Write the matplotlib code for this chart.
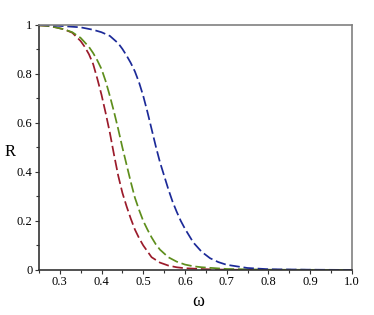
import matplotlib
matplotlib.use("Agg")
import matplotlib.pyplot as plt
from matplotlib.ticker import MultipleLocator

# Data
omega_red = [0.25, 0.27, 0.29, 0.31, 0.33, 0.35, 0.36, 0.37, 0.38, 0.39, 0.40, 0.41,
             0.42, 0.43, 0.44, 0.45, 0.46, 0.47, 0.48, 0.49, 0.50, 0.52, 0.54, 0.56,
             0.58, 0.60, 0.65, 0.70, 0.80, 1.00]
R_red = [0.998, 0.996, 0.99, 0.982, 0.968, 0.934, 0.91, 0.88, 0.84, 0.78, 0.715, 0.64,
         0.56, 0.47, 0.385, 0.315, 0.26, 0.21, 0.165, 0.13, 0.10, 0.052, 0.03, 0.018,
         0.011, 0.007, 0.003, 0.001, 0.0, 0.0]

omega_green = [0.25, 0.27, 0.29, 0.31, 0.33, 0.35, 0.37, 0.38, 0.39, 0.40, 0.41, 0.42,
               0.43, 0.44, 0.45, 0.46, 0.47, 0.48, 0.49, 0.50, 0.51, 0.52, 0.53, 0.54,
               0.56, 0.58, 0.60, 0.62, 0.64, 0.70, 0.80, 1.00]
R_green = [0.998, 0.996, 0.99, 0.982, 0.97, 0.947, 0.91, 0.885, 0.855, 0.82, 0.77, 0.71,
           0.645, 0.575, 0.50, 0.43, 0.36, 0.295, 0.245, 0.20, 0.165, 0.133, 0.105, 0.083,
           0.052, 0.034, 0.022, 0.015, 0.011, 0.004, 0.001, 0.0]

omega_blue = [0.25, 0.30, 0.35, 0.38, 0.40, 0.42, 0.44, 0.45, 0.46, 0.47, 0.48, 0.49,
              0.50, 0.51, 0.52, 0.53, 0.54, 0.55, 0.56, 0.57, 0.58, 0.59, 0.60, 0.62,
              0.64, 0.66, 0.68, 0.70, 0.75, 0.80, 0.90, 1.00]
R_blue = [1.0, 0.996, 0.99, 0.98, 0.97, 0.955, 0.925, 0.902, 0.875, 0.845, 0.81, 0.765,
          0.71, 0.645, 0.575, 0.505, 0.44, 0.385, 0.33, 0.28, 0.238, 0.20, 0.168, 0.112,
          0.074, 0.048, 0.032, 0.021, 0.008, 0.003, 0.001, 0.0]

x_ticks = [0.3, 0.4, 0.5, 0.6, 0.7, 0.8, 0.9, 1.0]
x_ticklabels = ["0.3", "0.4", "0.5", "0.6", "0.7", "0.8", "0.9", "1.0"]
y_ticks = [0, 0.2, 0.4, 0.6, 0.8, 1]
y_ticklabels = ["0", "0.2", "0.4", "0.6", "0.8", "1"]

plt.rcParams['font.family'] = ['Liberation Serif', 'DejaVu Serif']

fig = plt.figure(figsize=(3.74, 3.15), dpi=100)
ax = fig.add_axes([0.104, 0.143, 0.837, 0.778])

dash = (0, (6, 2.2))
ax.plot(omega_red, R_red, color="#9b1b2b", lw=1.25, linestyle=dash)
ax.plot(omega_green, R_green, color="#5e8e1c", lw=1.25, linestyle=dash)
ax.plot(omega_blue, R_blue, color="#1c2a98", lw=1.25, linestyle=dash)

ax.set_xlim(0.25, 1.0)
ax.set_ylim(0, 1.0)
ax.set_xticks(x_ticks)
ax.set_xticklabels(x_ticklabels)
ax.set_yticks(y_ticks)
ax.set_yticklabels(y_ticklabels)
ax.xaxis.set_minor_locator(MultipleLocator(0.05))
ax.yaxis.set_minor_locator(MultipleLocator(0.1))
ax.tick_params(which='both', direction='out', labelsize=9, colors='#333333',
               labelcolor='black', pad=1.5)
ax.tick_params(which='major', length=3, width=0.8)
ax.tick_params(which='minor', length=2, width=0.8)
ax.tick_params(axis='x', which='both', top=False)
ax.tick_params(axis='y', which='both', right=False)

for side in ['left', 'bottom']:
    ax.spines[side].set_color('#333333')
    ax.spines[side].set_linewidth(1.2)
for side in ['top', 'right']:
    ax.spines[side].set_color('#808080')
    ax.spines[side].set_linewidth(1.2)

fig.text(10 / 374, 1 - 152 / 315, "R", fontsize=12, ha='center', va='center')
fig.text(198 / 374, 1 - 301 / 315, "ω", fontsize=13, ha='center', va='center')

fig.savefig("out.png", dpi=100)
